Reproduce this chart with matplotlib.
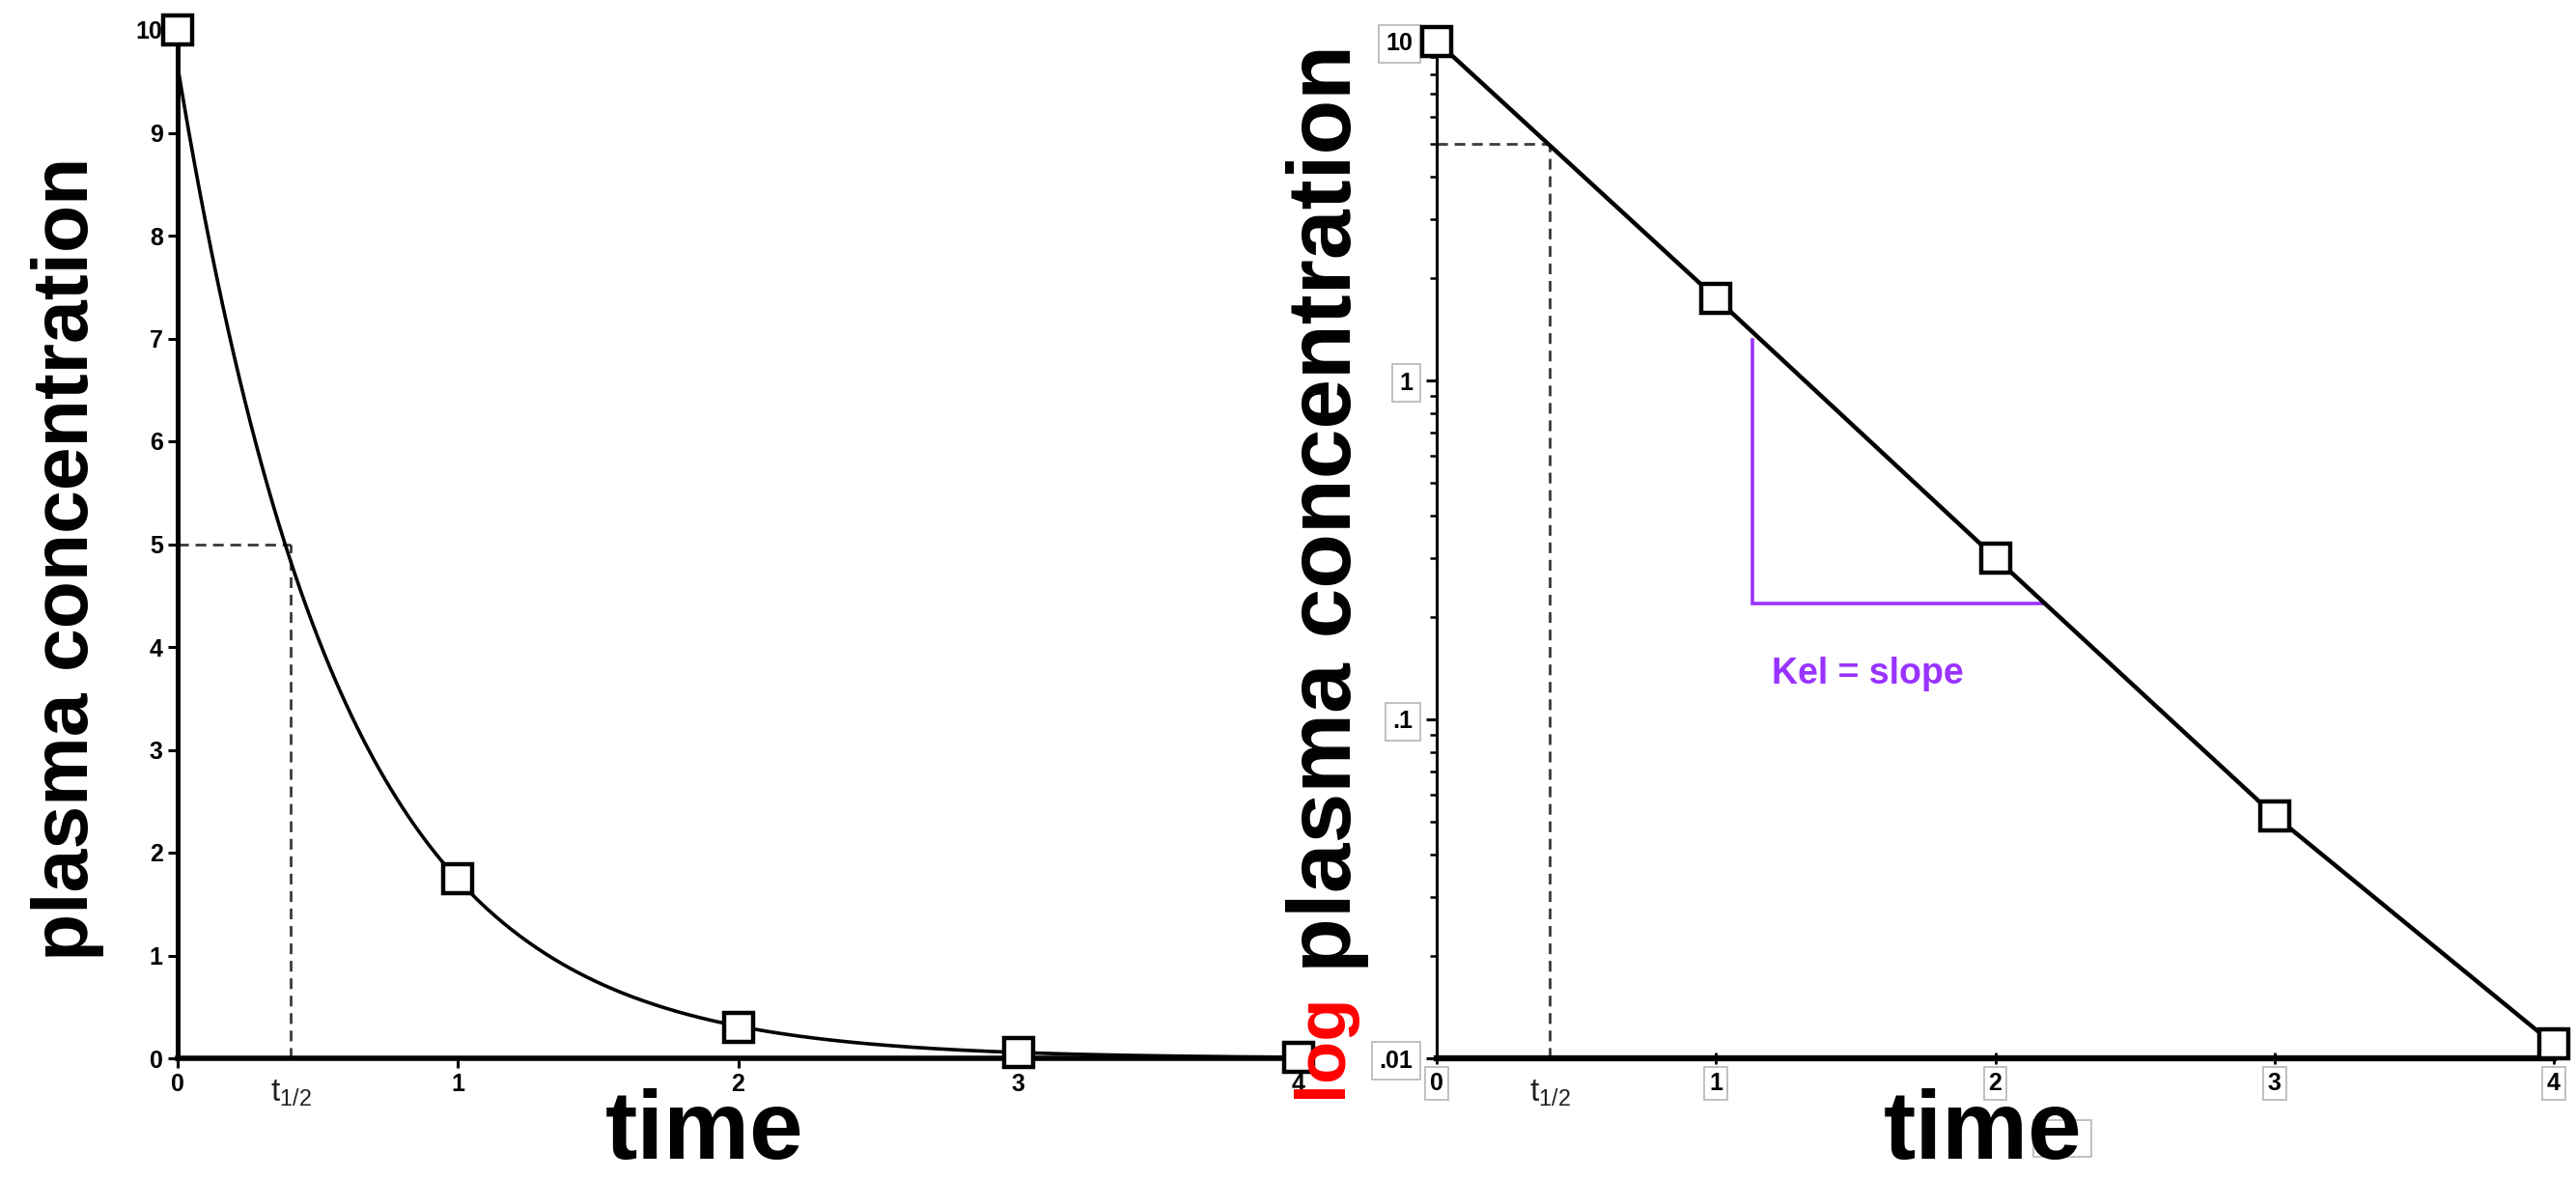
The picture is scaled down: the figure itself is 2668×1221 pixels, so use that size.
import numpy as np
import matplotlib
matplotlib.use("Agg")
import matplotlib.pyplot as plt
from matplotlib.patches import Rectangle

# ----- DATA -----

# Sampling times and measured plasma concentrations
time_pts = [0, 1, 2, 3, 4]
conc = [10.0, 1.75, 0.30, 0.052, 0.011]

# Axis ticks
lin_ticks = [0, 1, 2, 3, 4, 5, 6, 7, 8, 9, 10]
time_ticks = [0, 1, 2, 3, 4]
log_ticks = [0.01, 0.1, 1, 10]
log_tick_labels = [".01", ".1", "1", "10"]

# Slope triangle on the log plot (time span, concentration span)
kel_t = [1.13, 2.17]
kel_c = [1.32, 0.22]

# ----- STYLE -----

narrow = ["Liberation Sans Narrow", "Liberation Sans", "DejaVu Sans"]
bold_sans = ["Liberation Sans", "DejaVu Sans"]
plt.rcParams["mathtext.fontset"] = "custom"
plt.rcParams["mathtext.rm"] = "Liberation Sans"
plt.rcParams["mathtext.it"] = "Liberation Sans"

purple = "#9933ff"
dash_col = "#3a3a3a"

# ----- MODEL -----

# Single exponential fitted to the log of the measurements
slope, intercept = np.polyfit(time_pts, np.log(conc), 1)
k_el = -slope
t_half = np.log(2) / k_el
c_half = conc[0] / 2
t_fine = np.linspace(0, 4, 400)
c_fine = np.exp(intercept + slope * t_fine)

# ----- FIGURE -----

W, H = 2668, 1221
fig = plt.figure(figsize=(W / 100, H / 100), dpi=100)

def px_axes(x0, x1, y_top, y_bot):
    """Axes from pixel edges (origin top-left)"""
    return fig.add_axes([x0 / W, 1 - y_bot / H, (x1 - x0) / W, (y_bot - y_top) / H])

ax1 = px_axes(184, 1345, 31, 1096)
ax2 = px_axes(1488, 2645, 43, 1096)

dashes = (0, (4, 2.5))

# Left: linear concentration
ax1.plot(t_fine, c_fine, color="black", lw=2.6, zorder=3)
ax1.plot(time_pts, conc, ls="none", marker="s", ms=21, mfc="white",
         mec="black", mew=3.2, zorder=4, clip_on=False)
ax1.plot([0, t_half], [c_half, c_half], color=dash_col, lw=2.0, ls=dashes, zorder=2)
ax1.plot([t_half, t_half], [0, c_half], color=dash_col, lw=2.0, ls=dashes, zorder=2)
ax1.set_xlim(0, 4)
ax1.set_ylim(0, 10)
ax1.set_xticks(time_ticks)
ax1.set_yticks(lin_ticks)

for s in ["top", "right"]:
    ax1.spines[s].set_visible(False)
ax1.spines["left"].set_linewidth(3.6)
ax1.spines["bottom"].set_linewidth(4.0)
ax1.tick_params(length=7, width=2.2, pad=4, labelsize=18)
for lab in ax1.get_xticklabels() + ax1.get_yticklabels():
    lab.set_family(narrow)
    lab.set_fontweight("bold")

# Right: log concentration
ax2.plot(time_pts, conc, color="black", lw=3.2, zorder=3, clip_on=False)
ax2.plot(time_pts, conc, ls="none", marker="s", ms=21, mfc="white",
         mec="black", mew=3.2, zorder=4, clip_on=False)
ax2.plot([0, t_half], [c_half, c_half], color=dash_col, lw=2.0, ls=dashes, zorder=2)
ax2.plot([t_half, t_half], [0.01, c_half], color=dash_col, lw=2.0, ls=dashes, zorder=2)
ax2.plot([kel_t[0], kel_t[0], kel_t[1]], [kel_c[0], kel_c[1], kel_c[1]],
         color=purple, lw=2.6, zorder=2, solid_joinstyle="miter")
ax2.text(kel_t[0] + 0.07, kel_c[1] * 0.62, "Kel = slope", color=purple,
         fontsize=27, fontweight="bold", family=bold_sans, ha="left", va="center")

ax2.set_yscale("log")
ax2.set_xlim(0, 4)
ax2.set_ylim(0.01, 10)
ax2.set_xticks(time_ticks)
ax2.set_yticks(log_ticks)
ax2.set_yticklabels(log_tick_labels)
for s in ["top", "right"]:
    ax2.spines[s].set_visible(False)
ax2.spines["left"].set_linewidth(2.2)
ax2.spines["bottom"].set_linewidth(4.5)
ax2.tick_params(axis="y", which="major", length=8, width=2.2, pad=10, labelsize=18)
ax2.tick_params(axis="y", which="minor", length=5, width=1.8)
ax2.tick_params(axis="x", length=8, width=2.0, direction="inout", pad=6, labelsize=18)
for lab in ax2.get_yticklabels():
    lab.set_family(narrow)
    lab.set_fontweight("bold")
    lab.set_bbox(dict(boxstyle="square,pad=0.3", fc="white", ec="#b5b5b5", lw=1.2))
for lab in ax2.get_xticklabels():
    lab.set_family(narrow)
    lab.set_fontweight("bold")
    lab.set_bbox(dict(boxstyle="square,pad=0.2", fc="white", ec="#b5b5b5", lw=1.2))

# Half-life labels under each time axis
for ax in (ax1, ax2):
    ax.text(t_half, -0.018, r"$\mathrm{t}_{\mathrm{1/2}}$", transform=ax.get_xaxis_transform(),
            fontsize=24, ha="center", va="top", color="#222222")

# Axis titles
fig.text(730 / W, 1 - 1200 / H, "time", fontsize=72, fontweight="bold",
         family=narrow, ha="center", va="baseline")
fig.text(2054 / W, 1 - 1200 / H, "time", fontsize=72, fontweight="bold",
         family=narrow, ha="center", va="baseline")
fig.patches.append(Rectangle((2106 / W, 1 - 1198 / H), 60 / W, 38 / H,
                             transform=fig.transFigure, fill=False,
                             ec="#b5b5b5", lw=1.2))

fig.text(70 / W, 1 - 995 / H, "plasma concentration", rotation=90,
         fontsize=58, fontweight="bold", family=bold_sans, ha="center", va="bottom")
fig.text(1375 / W, 1 - 1007 / H, "plasma concentration", rotation=90,
         fontsize=67, fontweight="bold", family=bold_sans, ha="center", va="bottom")
fig.text(1370 / W, 1 - 1137 / H, "log", rotation=90, color="red",
         fontsize=52, fontweight="bold", family=bold_sans, ha="center", va="bottom")

fig.savefig("out.png", dpi=100, facecolor="white")
